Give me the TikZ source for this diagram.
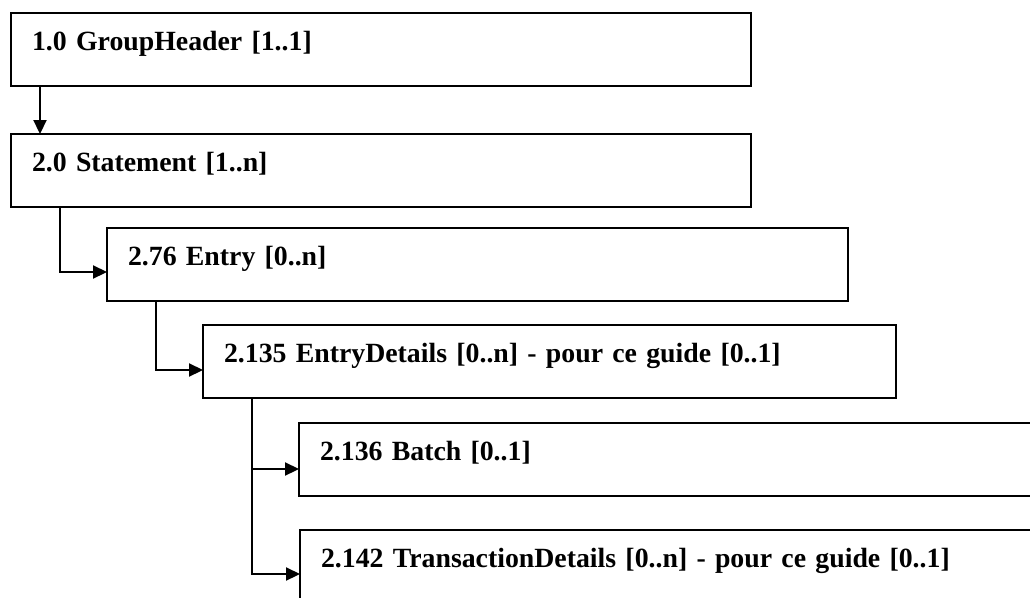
\documentclass[tikz,border=0pt]{standalone}
\usepackage{fontspec}
\setmainfont{Liberation Serif}
\usepackage{tikz}
\usetikzlibrary{arrows.meta}

\begin{document}
\begin{tikzpicture}[x=1pt, y=-1pt,
  box/.style={draw, line width=2.2pt, anchor=north west, outer sep=0pt,
    inner xsep=21pt, inner ysep=0pt, text height=37pt, text depth=36pt,
    align=left, font=\fontsize{27.8}{32}\selectfont\bfseries},
  link/.style={line width=2.2pt, -{Triangle[length=14pt,width=13pt]}}]
  \clip (0,0) rectangle (1030,597);

  \node[box, text width=698pt] (gh) at (11,13)  {1.0 GroupHeader [1..1]};
  \node[box, text width=698pt] (st) at (11,134) {2.0 Statement [1..n]};
  \node[box, text width=699pt] (en) at (107,228) {2.76 Entry [0..n]};
  \node[box, text width=651pt] (ed) at (203,325) {2.135 EntryDetails [0..n] - pour ce guide [0..1]};
  \node[box, text width=718pt] (bt) at (299,423) {2.136 Batch [0..1]};
  \node[box, text width=718pt] (tx) at (300,530) {2.142 TransactionDetails [0..n] - pour ce guide [0..1]};

  \draw[link] ([xshift=29pt]gh.south west) -- ([xshift=29pt]st.north west);
  \draw[link] ([xshift=49pt]st.south west) |- ([yshift=-44pt]en.north west);
  \draw[link] ([xshift=49pt]en.south west) |- ([yshift=-45pt]ed.north west);
  \draw[link] ([xshift=49pt]ed.south west) |- ([yshift=-46pt]bt.north west);
  \draw[link] ([xshift=49pt]ed.south west) |- ([yshift=-44pt]tx.north west);
\end{tikzpicture}
\end{document}
